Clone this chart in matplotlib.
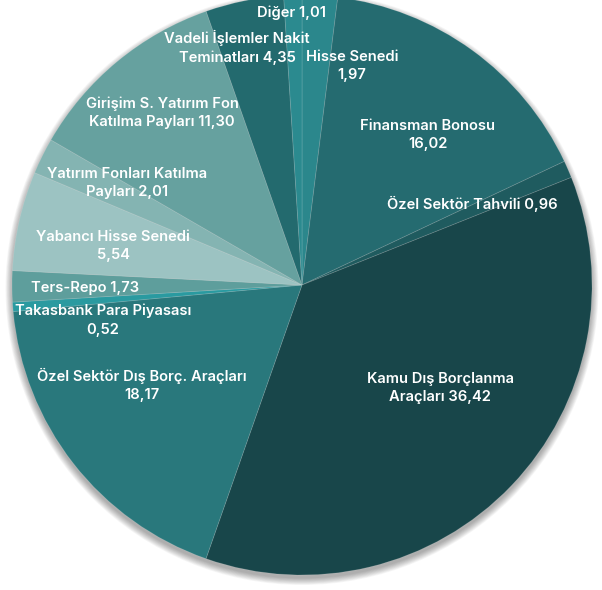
import numpy as np
import matplotlib
matplotlib.use("Agg")
import matplotlib.pyplot as plt
from matplotlib.patches import Circle

labels = ["Hisse Senedi\n1,97", "Finansman Bonosu\n16,02", "Özel Sektör Tahvili 0,96",
          "Kamu Dış Borçlanma\nAraçları 36,42", "Özel Sektör Dış Borç. Araçları\n18,17",
          "Takasbank Para Piyasası\n0,52", "Ters-Repo 1,73", "Yabancı Hisse Senedi\n5,54",
          "Yatırım Fonları Katılma\nPayları 2,01", "Girişim S. Yatırım Fon\nKatılma Payları 11,30",
          "Vadeli İşlemler Nakit\nTeminatları 4,35", "Diğer 1,01"]
values = [1.97, 16.02, 0.96, 36.42, 18.17, 0.52, 1.73, 5.54, 2.01, 11.30, 4.35, 1.01]
colors = ["#2b878c", "#256b70", "#1f5b5f", "#18464a", "#29787c", "#2a9aa0",
          "#5e9e9c", "#9cc3c2", "#84b4b2", "#66a19f", "#236a6e", "#2b8a8f"]

# label placement (radial distance, angle offset in degrees) - styling only
label_dist = [0.775, 0.675, 0.65, 0.594, 0.65, 0.697, 0.748, 0.665, 0.70, 0.765, 0.85, 0.94]
label_shift = [-9.3, -4, 2, 7.1, -6, 5.7, 0.5, 1.1, -3.8, -0.5, 3.8, 0.3]

W, H, DPI = 602, 590, 100
R = 290.0
cx, cy = 302.0, 590 - 285.0

fig = plt.figure(figsize=(W / DPI, H / DPI), dpi=DPI)
ax = fig.add_axes([0, 0, 1, 1])

# soft shadow
for i in range(10):
    ax.add_patch(Circle((0.0, -0.012), 1.0 + 0.0025 * i, color="black",
                        alpha=0.035, lw=0, zorder=0))

wedges, _ = ax.pie(values, colors=colors, startangle=90, counterclock=False,
                   radius=1.0, center=(0, 0), frame=True,
                   wedgeprops=dict(edgecolor=(1, 1, 1, 0.15), linewidth=0.6))
ax.set_xlim(-cx / R, (W - cx) / R)
ax.set_ylim(-cy / R, (H - cy) / R)
ax.set_aspect("equal")
ax.axis("off")

for w, lab, d, s in zip(wedges, labels, label_dist, label_shift):
    mid = np.deg2rad((w.theta1 + w.theta2) / 2 + s)
    ax.text(d * np.cos(mid), d * np.sin(mid), lab, ha="center", va="center",
            color="white", fontsize=10.6, fontweight="semibold", family="Inter",
            linespacing=1.38, zorder=5)

fig.savefig("out.png", dpi=DPI)
